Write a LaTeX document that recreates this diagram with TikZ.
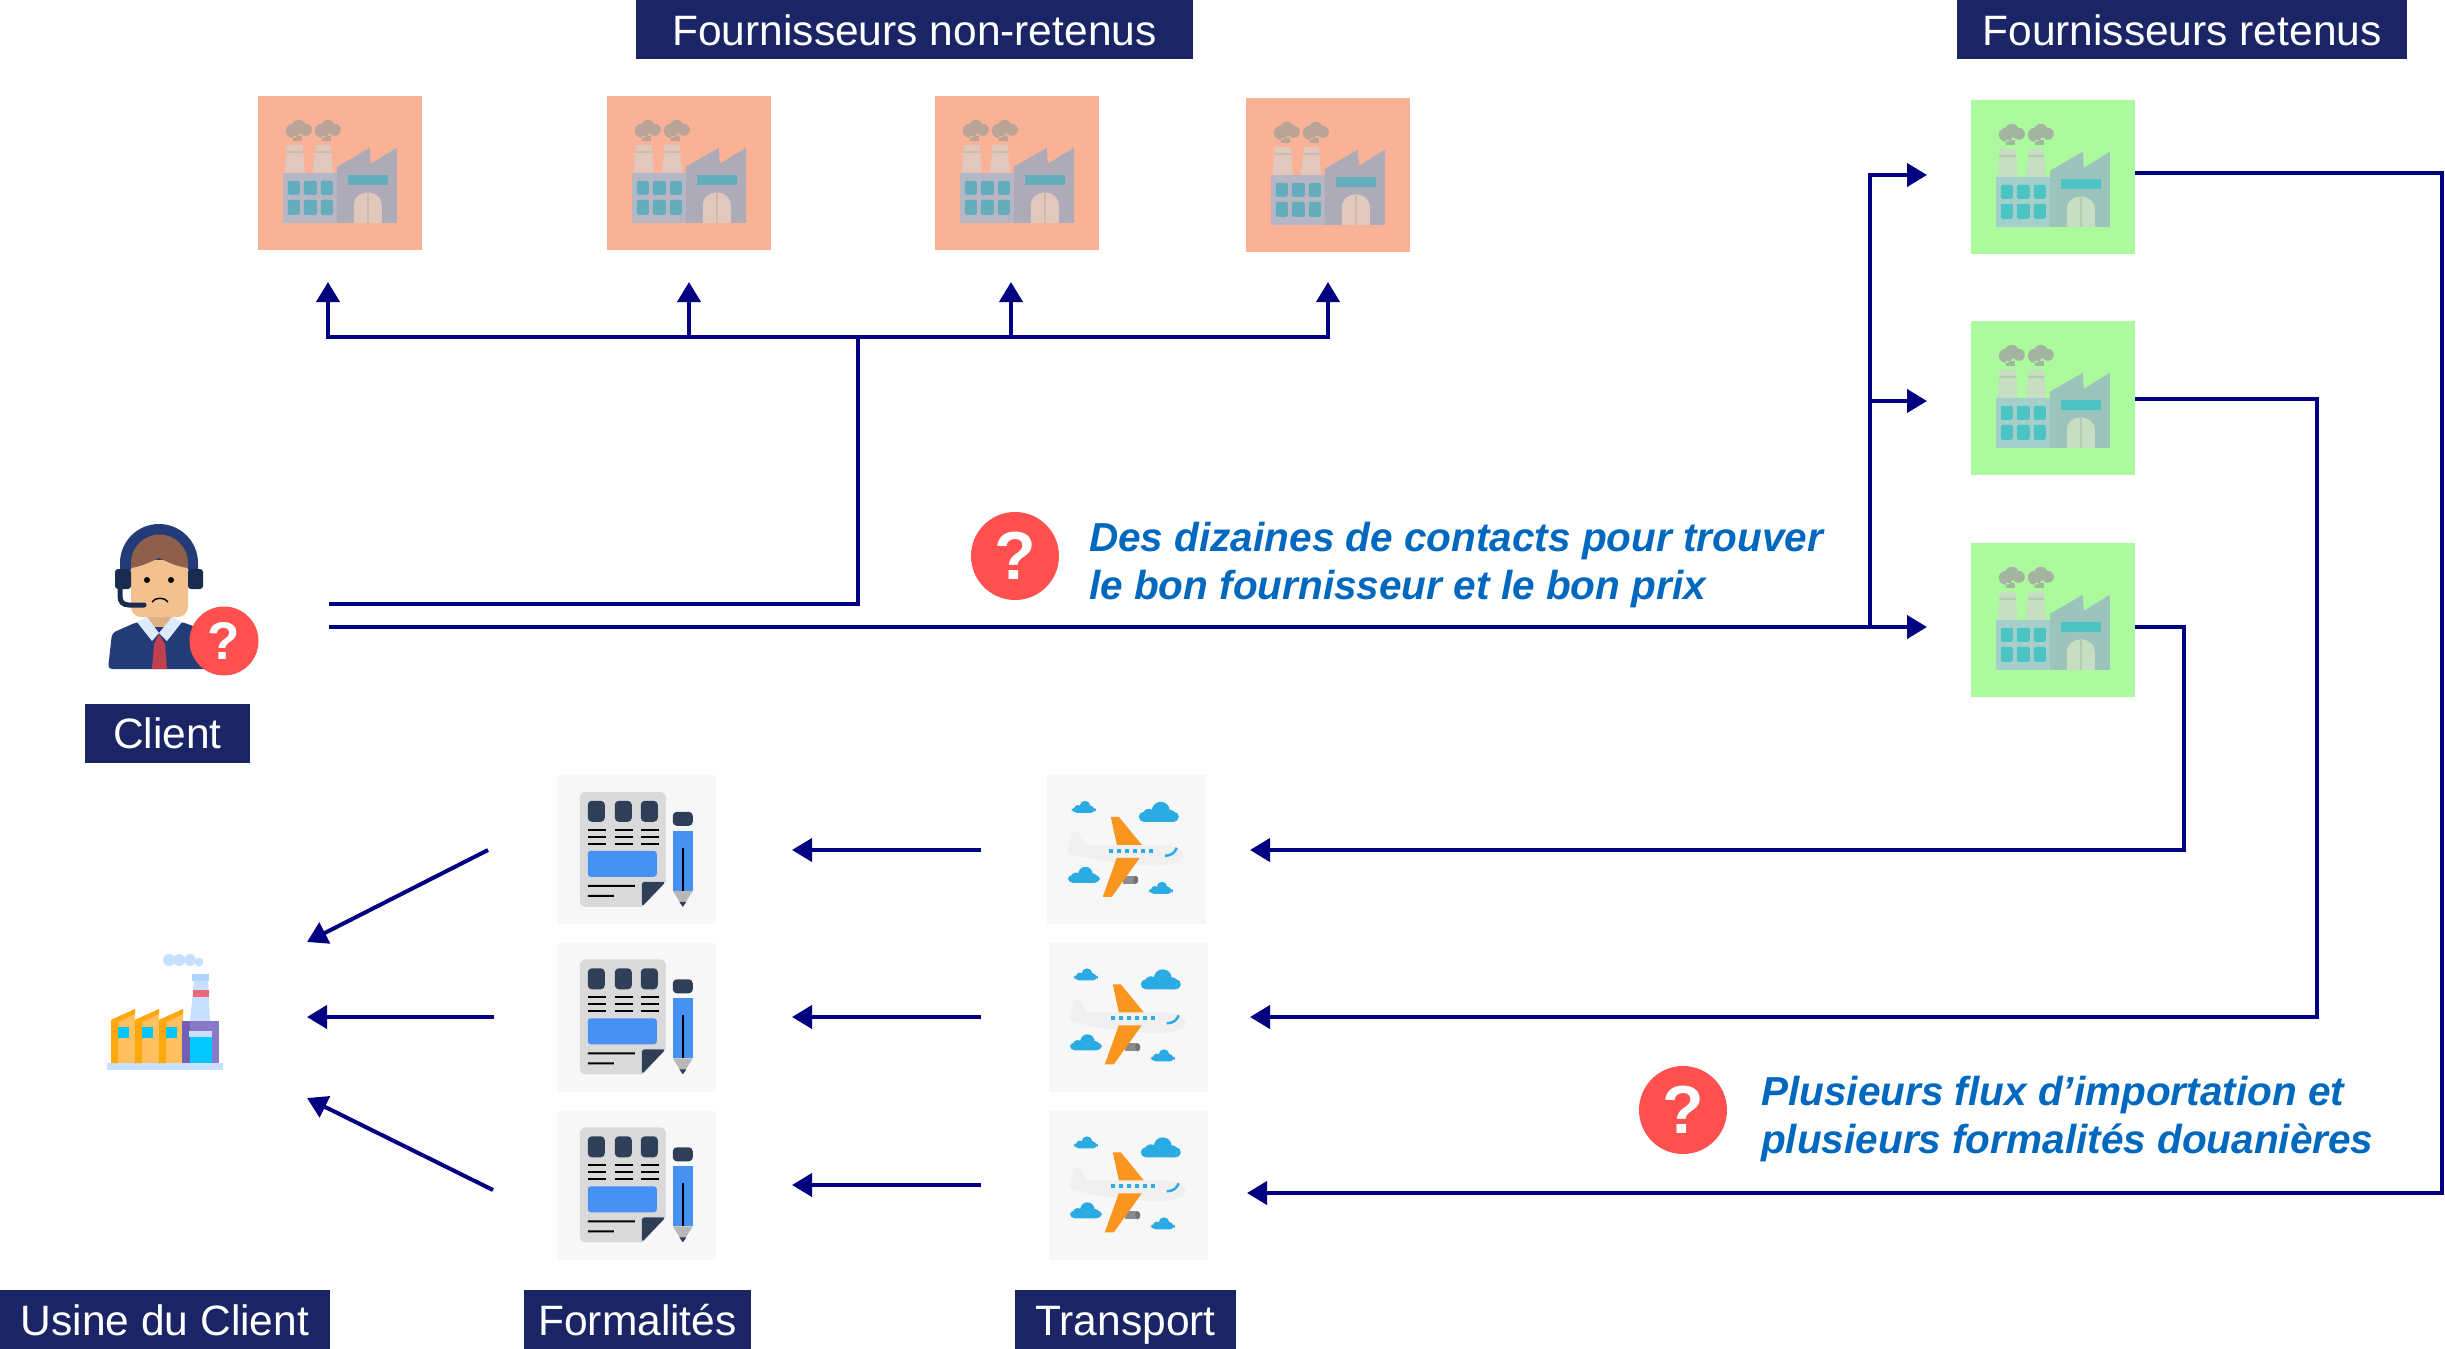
\documentclass[tikz,border=0pt]{standalone}
\usepackage{fontspec}
\setmainfont{Liberation Sans}
\usepackage{xcolor}
\usetikzlibrary{arrows.meta}
% usine teintee : fond, batiments, fenetres, cheminees, fumee
\definecolor{orfond}{HTML}{F9B296}
\definecolor{orgauche}{HTML}{B7B6C4}
\definecolor{ordroite}{HTML}{AEABB8}
\definecolor{orvitre}{HTML}{64ADBC}
\definecolor{orchem}{HTML}{E0C8BE}
\definecolor{orbande}{HTML}{D2B9AE}
\definecolor{orfumee}{HTML}{B9A498}
\definecolor{vefond}{HTML}{ADFA9E}
\definecolor{vegauche}{HTML}{A5CFCB}
\definecolor{vedroite}{HTML}{9CC4BD}
\definecolor{vevitre}{HTML}{4DC4C4}
\definecolor{vechem}{HTML}{C8DEC2}
\definecolor{vebande}{HTML}{B4CCB0}
\definecolor{vefumee}{HTML}{A3B5A0}
\definecolor{marine}{HTML}{1B2566}
\definecolor{fleche}{HTML}{000080}
\definecolor{alerte}{HTML}{FF5050}
\definecolor{bleutxt}{HTML}{0068BF}
\definecolor{fondgris}{HTML}{F7F7F7}
\definecolor{ardoise}{HTML}{2F3F58}
\definecolor{bleudoc}{HTML}{4791F5}
\definecolor{feuille}{HTML}{DADADA}
\definecolor{ciel}{HTML}{2AABE4}
\definecolor{aile}{HTML}{FA951F}
\definecolor{costume}{HTML}{233C78}
\definecolor{casque}{HTML}{1A2B50}
\definecolor{peau}{HTML}{F3C08F}
\definecolor{cou}{HTML}{DFAF85}
\definecolor{col}{HTML}{DDEBFF}
\definecolor{cravate}{HTML}{C04050}
\definecolor{cheveux}{HTML}{8E5F4A}
\definecolor{toitclair}{HTML}{FFC060}
\definecolor{toitfonce}{HTML}{FFA80D}
\definecolor{vitrecl}{HTML}{00C8FF}
\definecolor{glace}{HTML}{C8E0FF}
\definecolor{glacefon}{HTML}{B0D4FF}
\definecolor{violetg}{HTML}{7360B5}
\definecolor{violetd}{HTML}{8A78C8}
\definecolor{bande}{HTML}{F06878}
\tikzset{
    titre/.style={fill=marine, text=white, minimum height=59pt, inner sep=0pt, text height=31pt, text depth=0pt, font=\fontsize{42.5}{48}\selectfont},
    fl/.style={draw=fleche, line width=4pt, -{Triangle[length=20pt,width=23pt]}},
    ligne/.style={draw=fleche, line width=4pt},
    boite/.style={minimum width=164pt, minimum height=154pt, inner sep=0pt},
    fondicone/.style={fill=fondgris, minimum width=159pt, minimum height=149pt, inner sep=0pt},
    alarme/.style={circle, fill=alerte, text=white, minimum size=88pt, inner sep=0pt, font=\fontsize{68}{68}\selectfont\bfseries},
    remarque/.style={text=bleutxt, align=left, anchor=west, inner sep=0pt, font=\fontsize{40.5}{48}\selectfont\bfseries\itshape},
    pics/usine/.style={code={
        \fill[#1fumee] (35,35) circle (7) (41,31) circle (7) (48,34) circle (6) (35,40) rectangle (44,45);
        \fill[#1fumee] (64,35) circle (7) (70,31) circle (7) (77,34) circle (6) (64,40) rectangle (73,45);
        \fill[#1chem] (27,77) -- (29,49) -- (45,49) -- (47,77) -- cycle;
        \fill[#1chem] (55,77) -- (58,49) -- (73,49) -- (75,77) -- cycle;
        \fill[#1bande] (28.5,55) rectangle (45.5,57) (57.5,55) rectangle (73.5,57);
        \fill[#1gauche] (25,77) rectangle (79,127);
        \fill[#1droite] (79,71) -- (112,52) -- (113,68) -- (139,52) -- (139,127) -- (79,127) -- cycle;
        \foreach \xa/\xb in {30/42,46/59,63/75} {
            \fill[#1vitre, rounded corners=2pt] (\xa,85) rectangle (\xb,99);
            \fill[#1vitre, rounded corners=2pt] (\xa,104) rectangle (\xb,119);
        }
        \fill[#1vitre] (90,79) rectangle (130,89);
        \fill[#1chem] (96,127) -- (96,110) .. controls (96,92) and (124,92) .. (124,110) -- (124,127) -- cycle;
        \fill[#1bande] (109,97) rectangle (111,127);
    }},
    pics/formulaire/.style={code={
        \fill[feuille, rounded corners=6pt] (23,17) rectangle (109,132);
        \fill[fondgris] (109,107) -- (109,133) -- (85,133) -- cycle;
        \fill[ardoise, rounded corners=3pt] (85,107) -- (109,107) -- (85,132) -- cycle;
        \foreach \xa in {31,58,84} {
            \fill[ardoise, rounded corners=4pt] (\xa,26) rectangle ++(17,21);
            \foreach \ya in {55,62,69}
                \fill[black] (\xa,\ya-1) rectangle ++(18,2);
        }
        \fill[bleudoc, rounded corners=3pt] (31,76) rectangle (100,102);
        \fill[black] (31,110) rectangle (78,112) (31,120) rectangle (57,122);
        \fill[ardoise, rounded corners=4pt] (116,51) -- (116,37) -- (136,37) -- (136,51) -- cycle;
        \fill[bleudoc] (116,56) rectangle (136,116);
        \fill[black!28] (116,116) -- (136,116) -- (126,132) -- cycle;
        \fill[ardoise] (122.5,127) -- (129.5,127) -- (126,132) -- cycle;
        \fill[black] (125,73) rectangle (127,116);
    }},
    pics/nuage/.style={code={
        \fill[ciel, rounded corners=5pt] (0,10) rectangle (40,20);
        \fill[ciel] (10,13) circle (6) (22,9) circle (9) (31,14) circle (6);
    }},
    pics/avion/.style={code={
        \pic[scale=0.6] at (25,26) {nuage};
        \pic at (92,27) {nuage};
        \pic[scale=0.8] at (21,92) {nuage};
        \pic[scale=0.6] at (102,107) {nuage};
        \fill[black!45] (76,101) rectangle (89,109);
        \fill[black!55] (89,105) circle (2.5 and 4);
        \fill[black!6] (21,74) -- (25,57) -- (31,57) -- (38,70) -- (116,70)
            .. controls (128,71) and (137,76) .. (137,80) .. controls (137,88) and (122,91) .. (110,91)
            .. controls (80,91) and (40,84) .. (26,80) .. controls (22,79) and (21,77) .. (21,74) -- cycle;
        \fill[aile] (64,42) -- (72,42) -- (95,70) -- (70,70) -- cycle;
        \fill[aile] (70,83) -- (93,83) -- (65,122) -- (56,122) -- cycle;
        \foreach \xa in {64,72,80,88,96,104}
            \fill[ciel] (\xa-2,74) rectangle ++(4,4);
        \draw[ciel, line width=2.5pt] (118,81) .. controls (124,81) and (128,78) .. (130,73);
    }},
    pics/clientele/.style={code={
        % corps
        \fill[costume, rounded corners=4pt] (28,169) -- (32,133) -- (57,122) -- (102,122) -- (135,134) -- (135,169) -- cycle;
        \fill[cou] (67,108) rectangle (92,127);
        \fill[col] (57,122) -- (67,117) -- (79,133) -- (92,117) -- (102,122) -- (87,141) -- (79,133) -- (72,141) -- cycle;
        \fill[cravate] (74,144) -- (79,134) -- (85,144) -- (87,169) -- (72,169) -- cycle;
        % tete et casque
        \fill[costume] (40,70) -- (40,63) arc[start angle=180, end angle=360, radius=39] -- (118,70) -- cycle;
        \fill[peau, rounded corners=10pt] (51,60) rectangle (108,117);
        \fill[cheveux] (51,68) -- (51,63) arc[start angle=180, end angle=360, radius=28.5] -- (108,68)
            .. controls (95,66) and (88,62) .. (79,58) .. controls (70,62) and (63,66) .. (51,68) -- cycle;
        \fill[casque, rounded corners=3pt] (35,69) rectangle (51,89) (108,69) rectangle (123,89);
        \draw[casque, line width=5pt, line cap=round] (40,89) -- (40,96) .. controls (40,102) and (43,105) .. (49,105) -- (64,105);
        \fill[black] (67,80) circle (3) (91,80) circle (3);
        \draw[black, line width=1.4pt] (72,102) .. controls (75,97) and (85,97) .. (88,102);
    }},
    pics/usineclient/.style={code={
        \fill[glace] (17,133) rectangle (133,140);
        \foreach \xa in {0,24,48} {
            \fill[toitclair] (21+\xa,90) -- (45+\xa,79) -- (45+\xa,133) -- (21+\xa,133) -- cycle;
            \fill[toitfonce] (21+\xa,90) -- (45+\xa,79) -- (45+\xa,84) -- (28+\xa,92) -- (28+\xa,133) -- (21+\xa,133) -- cycle;
            \fill[vitrecl] (28+\xa,97) rectangle (39+\xa,108);
        }
        \fill[glace] (100,91) -- (104,51) -- (118,51) -- (120,91) -- cycle;
        \fill[bande] (102.5,60) rectangle (118.5,67);
        \fill[glacefon] (102,44) rectangle (119,51);
        \fill[violetd] (92,91) rectangle (129,133);
        \fill[violetg] (92,91) rectangle (100,133);
        \fill[vitrecl] (100,107) rectangle (122,133);
        \fill[glace] (99,101) rectangle (122,107);
        \fill[glace] (79,30) circle (6) (89,30) circle (6) (100,30) circle (6) (109,32) circle (4.5);
    }},
}
\begin{document}
\begin{tikzpicture}[x=1pt,y=-1pt]
    \useasboundingbox (0,0) rectangle (2445,1349);

    % Titres
    \node[titre, minimum width=557pt] (tnr) at (914.5,29.5) {Fournisseurs non-retenus};
    \node[titre, minimum width=450pt] (tre) at (2182,29.5) {Fournisseurs retenus};
    \node[titre, minimum width=165pt] (tcl) at (167.5,733) {Client};
    \node[titre, minimum width=330pt] (tus) at (165,1319.5) {Usine du Client};
    \node[titre, minimum width=227pt] (tfo) at (637.5,1319.5) {Formalités};
    \node[titre, minimum width=221pt] (ttr) at (1125.5,1319.5) {Transport};

    % Fournisseurs non-retenus
    \foreach \nom/\px/\py in {nr1/340/173, nr2/689/173, nr3/1017/173, nr4/1328/175} {
        \node[boite, fill=orfond] (\nom) at (\px,\py) {};
        \pic at (\nom.north west) {usine=or};
    }

    % Fournisseurs retenus
    \foreach \nom/\py in {re1/177, re2/398, re3/620} {
        \node[boite, fill=vefond] (\nom) at (2053,\py) {};
        \pic at (\nom.north west) {usine=ve};
    }

    % Client
    \node[minimum width=170pt, minimum height=172pt, inner sep=0pt] (cli) at (175,607) {};
    \pic at (80,500) {clientele};
    \node[alarme, minimum size=69pt, font=\fontsize{53}{53}\selectfont\bfseries] (qcl) at (224,641) {?};

    % Usine du client
    \node[minimum width=120pt, minimum height=120pt, inner sep=0pt] (usc) at (165,1010) {};
    \pic at (90,930) {usineclient};

    % Formalites et transport
    \foreach \nom/\px/\py in {fo1/636.5/849.5, fo2/636.5/1017, fo3/636.5/1185} {
        \node[fondicone] (\nom) at (\px,\py) {};
        \pic at (\nom.north west) {formulaire};
    }
    \foreach \nom/\px/\py in {tr1/1126.5/849.5, tr2/1128.5/1017, tr3/1128.5/1185} {
        \node[fondicone] (\nom) at (\px,\py) {};
        \pic at (\nom.north west) {avion};
    }

    % Remarques
    \node[alarme] (q1) at (1015,556) {?};
    \node[remarque] (r1) at (1089,565.5) {Des dizaines de contacts pour trouver\\le bon fournisseur et le bon prix};
    \node[alarme] (q2) at (1683,1110) {?};
    \node[remarque] (r2) at (1761,1119.5) {Plusieurs flux d’importation et\\plusieurs formalités douanières};

    % Points de depart et d'arrivee
    \coordinate (c1) at (329,604);
    \coordinate (c2) at (329,627);
    \coordinate (bus) at (858,337);
    \coordinate (a1) at (328,282);
    \coordinate (a2) at (689,282);
    \coordinate (a3) at (1011,282);
    \coordinate (a4) at (1328,282);
    \coordinate (nd) at (1870,627);
    \coordinate (b1) at (1927,175);
    \coordinate (b2) at (1927,401);
    \coordinate (b3) at (1927,627);
    \coordinate (d1) at (2442,173);
    \coordinate (d2) at (2317,399);
    \coordinate (d3) at (2184,627);
    \coordinate (e1) at (1247,1193);
    \coordinate (e2) at (1250,1017);
    \coordinate (e3) at (1250,850);
    \coordinate (f1) at (792,850);
    \coordinate (f2) at (792,1017);
    \coordinate (f3) at (792,1185);
    \coordinate (g1) at (981,850);
    \coordinate (g2) at (981,1017);
    \coordinate (g3) at (981,1185);
    \coordinate (h1) at (488,850);
    \coordinate (h2) at (494,1017);
    \coordinate (h3) at (493,1190);
    \coordinate (u1) at (307,942);
    \coordinate (u2) at (307,1017);
    \coordinate (u3) at (307,1098);

    % Vers les fournisseurs non-retenus
    \draw[ligne] (c1) -| (bus);
    \draw[fl] (bus) -| (a1);
    \draw[fl] (bus) -| (a2);
    \draw[fl] (bus) -| (a3);
    \draw[fl] (bus) -| (a4);

    % Vers les fournisseurs retenus
    \draw[fl] (c2) -- (b3);
    \draw[fl] (nd) |- (b1);
    \draw[fl] (nd) |- (b2);

    % Vers le transport
    \draw[fl] ([yshift=4pt]re1.east) -- (d1) |- (e1);
    \draw[fl] ([yshift=-1pt]re2.east) -- (d2) |- (e2);
    \draw[fl] ([yshift=-7pt]re3.east) -- (d3) |- (e3);

    % Transport vers formalites, formalites vers usine
    \draw[fl] (g1) -- (f1);
    \draw[fl] (g2) -- (f2);
    \draw[fl] (g3) -- (f3);
    \draw[fl] (h1) -- (u1);
    \draw[fl] (h2) -- (u2);
    \draw[fl] (h3) -- (u3);
\end{tikzpicture}
\end{document}
